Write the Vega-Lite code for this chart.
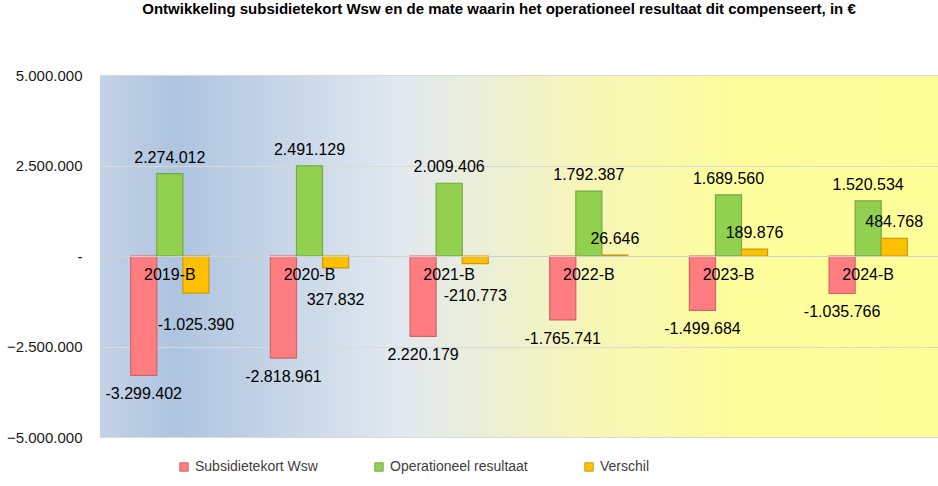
{
  "$schema": "https://vega.github.io/schema/vega-lite/v6.json",
  "width": 838,
  "height": 362,
  "autosize": {"type": "none"},
  "padding": {"left": 100, "top": 75, "right": 0, "bottom": 49},
  "background": "white",
  "view": {
    "stroke": null,
    "fill": {
      "gradient": "linear",
      "x1": 0, "y1": 0, "x2": 1, "y2": 0,
      "stops": [
        {"offset": 0, "color": "#c4d3e6"},
        {"offset": 0.09, "color": "#aec4df"},
        {"offset": 0.36, "color": "#e2e9f0"},
        {"offset": 0.58, "color": "#f6f6b8"},
        {"offset": 0.76, "color": "#fdfd9c"},
        {"offset": 1, "color": "#ffff99"}
      ]
    }
  },
  "title": {
    "text": "Ontwikkeling subsidietekort Wsw en de mate waarin het operationeel resultaat dit compenseert, in €",
    "font": "Liberation Sans",
    "fontSize": 15,
    "fontWeight": "bold",
    "color": "#000000",
    "anchor": "middle",
    "offset": 51,
    "dx": -20
  },
  "data": {
    "values": [
      {"jaar": "2019-B", "serie": "Subsidietekort Wsw", "waarde": -3299402, "label": "-3.299.402"},
      {"jaar": "2019-B", "serie": "Operationeel resultaat", "waarde": 2274012, "label": "2.274.012"},
      {"jaar": "2019-B", "serie": "Verschil", "waarde": -1025390, "label": "-1.025.390"},
      {"jaar": "2020-B", "serie": "Subsidietekort Wsw", "waarde": -2818961, "label": "-2.818.961"},
      {"jaar": "2020-B", "serie": "Operationeel resultaat", "waarde": 2491129, "label": "2.491.129"},
      {"jaar": "2020-B", "serie": "Verschil", "waarde": -327832, "label": "327.832"},
      {"jaar": "2021-B", "serie": "Subsidietekort Wsw", "waarde": -2220179, "label": "2.220.179"},
      {"jaar": "2021-B", "serie": "Operationeel resultaat", "waarde": 2009406, "label": "2.009.406"},
      {"jaar": "2021-B", "serie": "Verschil", "waarde": -210773, "label": "-210.773"},
      {"jaar": "2022-B", "serie": "Subsidietekort Wsw", "waarde": -1765741, "label": "-1.765.741"},
      {"jaar": "2022-B", "serie": "Operationeel resultaat", "waarde": 1792387, "label": "1.792.387"},
      {"jaar": "2022-B", "serie": "Verschil", "waarde": 26646, "label": "26.646"},
      {"jaar": "2023-B", "serie": "Subsidietekort Wsw", "waarde": -1499684, "label": "-1.499.684"},
      {"jaar": "2023-B", "serie": "Operationeel resultaat", "waarde": 1689560, "label": "1.689.560"},
      {"jaar": "2023-B", "serie": "Verschil", "waarde": 189876, "label": "189.876"},
      {"jaar": "2024-B", "serie": "Subsidietekort Wsw", "waarde": -1035766, "label": "-1.035.766"},
      {"jaar": "2024-B", "serie": "Operationeel resultaat", "waarde": 1520534, "label": "1.520.534"},
      {"jaar": "2024-B", "serie": "Verschil", "waarde": 484768, "label": "484.768"}
    ]
  },
  "encoding": {
    "x": {
      "field": "jaar",
      "type": "nominal",
      "sort": null,
      "scale": {"paddingInner": 0.44, "paddingOuter": 0.22},
      "axis": {
        "title": null,
        "orient": "bottom",
        "offset": -181,
        "zindex": 1,
        "labelAngle": 0,
        "labelFont": "Liberation Sans",
        "labelFontSize": 16,
        "labelColor": "#000000",
        "labelPadding": 10,
        "ticks": false,
        "domainColor": "#d0d0d0",
        "domainWidth": 1
      }
    },
    "xOffset": {
      "field": "serie",
      "type": "nominal",
      "sort": ["Subsidietekort Wsw", "Operationeel resultaat", "Verschil"],
      "scale": {"paddingInner": 0, "paddingOuter": 0}
    },
    "y": {
      "field": "waarde",
      "type": "quantitative",
      "scale": {"domain": [-5000000, 5000000], "nice": false, "zero": true},
      "axis": {
        "title": null,
        "values": [-5000000, -2500000, 0, 2500000, 5000000],
        "labelExpr": "datum.value == 0 ? '-' : replace(format(datum.value, ','), regexp(',', 'g'), '.')",
        "labelFont": "Liberation Sans",
        "labelFontSize": 15,
        "labelColor": "#1a1a1a",
        "labelPadding": 18,
        "ticks": false,
        "domain": false,
        "grid": true,
        "gridColor": "#d9d9d9",
        "gridWidth": 1
      }
    }
  },
  "layer": [
    {
      "mark": {"type": "bar", "strokeWidth": 1.2},
      "encoding": {
        "color": {
          "field": "serie",
          "type": "nominal",
          "scale": {
            "domain": ["Subsidietekort Wsw", "Operationeel resultaat", "Verschil"],
            "range": ["#ff7c80", "#92d050", "#ffc000"]
          },
          "legend": {
            "title": null,
            "orient": "none",
            "legendX": 77,
            "legendY": 385,
            "direction": "horizontal",
            "symbolType": "square",
            "symbolSize": 70,
            "symbolStrokeWidth": 1,
            "labelFont": "Liberation Sans",
            "labelFontSize": 14,
            "labelColor": "#404040",
            "labelOffset": 4,
            "columnPadding": 54,
            "labelLimit": 300
          }
        },
        "stroke": {
          "field": "serie",
          "type": "nominal",
          "scale": {
            "domain": ["Subsidietekort Wsw", "Operationeel resultaat", "Verschil"],
            "range": ["#d06468", "#77a942", "#c99a10"]
          },
          "legend": null
        }
      }
    },
    {
      "transform": [{"filter": "datum.waarde >= 0"}],
      "mark": {"type": "text", "baseline": "bottom", "dy": -8, "font": "Liberation Sans", "fontSize": 16, "color": "#000000"},
      "encoding": {"text": {"field": "label"}}
    },
    {
      "transform": [{"filter": "datum.waarde < 0 && datum.serie != 'Verschil'"}],
      "mark": {"type": "text", "baseline": "top", "dy": 11, "font": "Liberation Sans", "fontSize": 16, "color": "#000000"},
      "encoding": {"text": {"field": "label"}}
    },
    {
      "transform": [{"filter": "datum.waarde < 0 && datum.serie == 'Verschil'"}],
      "mark": {"type": "text", "baseline": "top", "dy": 24, "font": "Liberation Sans", "fontSize": 16, "color": "#000000"},
      "encoding": {"text": {"field": "label"}}
    }
  ]
}
